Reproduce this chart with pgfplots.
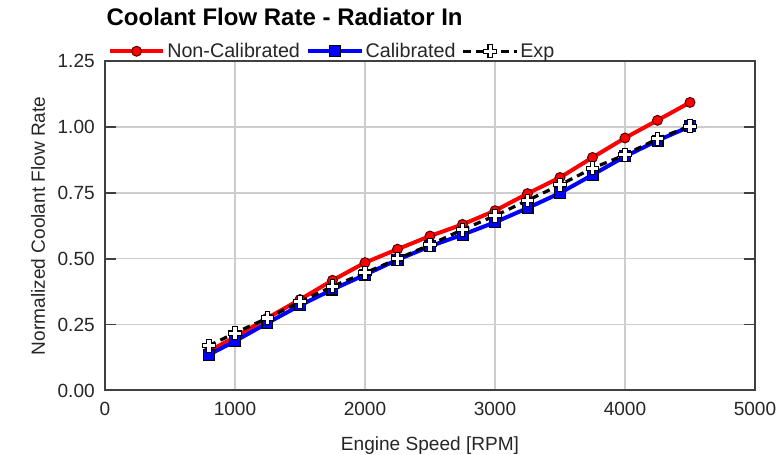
\documentclass[border=0pt]{standalone}
\usepackage{fontspec}
\setmainfont{Liberation Sans}
\usepackage{pgfplots}
\pgfplotsset{compat=1.18}
\definecolor{gridgray}{RGB}{205,205,205}
\definecolor{axgray}{RGB}{64,64,64}
\pgfdeclareplotmark{wplus}{%
  \pgfmathsetlengthmacro\pa{\pgfplotmarksize}%
  \pgfmathsetlengthmacro\pb{0.32*\pgfplotmarksize}%
  \pgfpathmoveto{\pgfpoint{-\pb}{\pa}}%
  \pgfpathlineto{\pgfpoint{\pb}{\pa}}%
  \pgfpathlineto{\pgfpoint{\pb}{\pb}}%
  \pgfpathlineto{\pgfpoint{\pa}{\pb}}%
  \pgfpathlineto{\pgfpoint{\pa}{-\pb}}%
  \pgfpathlineto{\pgfpoint{\pb}{-\pb}}%
  \pgfpathlineto{\pgfpoint{\pb}{-\pa}}%
  \pgfpathlineto{\pgfpoint{-\pb}{-\pa}}%
  \pgfpathlineto{\pgfpoint{-\pb}{-\pb}}%
  \pgfpathlineto{\pgfpoint{-\pa}{-\pb}}%
  \pgfpathlineto{\pgfpoint{-\pa}{\pb}}%
  \pgfpathlineto{\pgfpoint{-\pb}{\pb}}%
  \pgfpathclose
  \pgfusepathqfillstroke}
\pgfplotstableread{
x     noncal  cal    exp
800   0.150   0.136  0.170
1000  0.202   0.187  0.218
1250  0.275   0.256  0.275
1500  0.345   0.323  0.336
1750  0.418   0.383  0.395
2000  0.485   0.439  0.446
2250  0.536   0.496  0.499
2500  0.586   0.547  0.553
2750  0.630   0.591  0.610
3000  0.682   0.638  0.663
3250  0.747   0.692  0.721
3500  0.808   0.749  0.780
3750  0.884   0.818  0.843
4000  0.958   0.888  0.894
4250  1.025   0.948  0.955
4500  1.093   1.002  1.003
}\datatable
\begin{document}
\begin{tikzpicture}
\begin{axis}[
  name=ax,
  scale only axis,
  width=487.5pt, height=247.1pt,
  xmin=0, xmax=5000, ymin=0, ymax=1.25,
  xtick={0,1000,2000,3000,4000,5000},
  ytick={0,0.25,0.5,0.75,1,1.25},
  grid=major,
  major grid style={draw=gridgray, line width=1.1pt},
  axis line style={draw=axgray, line width=1.5pt},
  tick align=inside,
  major tick length=8.25pt,
  ytick style={draw=axgray, line width=1.3pt},
  xtick style={draw=none},
  /pgf/number format/assume math mode=true,
  xticklabel style={/pgf/number format/1000 sep={}, inner sep=0pt, anchor=north, yshift=-8.6pt},
  yticklabel style={/pgf/number format/fixed, /pgf/number format/fixed zerofill, /pgf/number format/precision=2, inner sep=0pt, anchor=east, xshift=-7.5pt},
  tick label style={font=\fontsize{14.3pt}{17pt}\selectfont, text=black!85},
  xlabel={Engine Speed [RPM]},
  ylabel={Normalized Coolant Flow Rate},
  label style={font=\fontsize{14.3pt}{17pt}\selectfont, text=black!85, inner sep=0pt},
  xlabel style={at={(axis description cs:0.5,0)}, anchor=base, yshift=-45pt},
  ylabel style={at={(axis description cs:0,0.5)}, anchor=base, yshift=45pt},
  title={\bfseries Coolant Flow Rate - Radiator In},
  title style={font=\fontsize{18pt}{21pt}\selectfont, at={(axis description cs:0,1)}, anchor=base west, inner sep=0pt, xshift=1pt, yshift=20.5pt},
  legend columns=3,
  legend style={draw=none, fill=none, at={(axis description cs:0,1)}, anchor=south west, xshift=2pt, yshift=-0.5pt, inner sep=0pt,
    font=\fontsize{14.8pt}{17pt}\selectfont, text=black!85,
    nodes={inner sep=1.5pt},
    /tikz/every even column/.append style={column sep=3.2pt}},
  legend image code/.code={\draw[#1, mark repeat=2, mark phase=2] plot coordinates {(0pt,0pt) (20pt,0pt) (40pt,0pt)};},
]
\addplot[color=red, line width=3pt, mark=*, mark size=3.75pt, mark options={fill=red, draw=black!70!red, line width=0.7pt, solid}]
  table[x=x, y=noncal] {\datatable};
\addlegendentry{Non-Calibrated}
\addplot[color=blue, line width=3pt, mark=square*, mark size=4.1pt, mark options={fill=blue, draw=black, line width=0.8pt, solid}]
  table[x=x, y=cal] {\datatable};
\addlegendentry{Calibrated}
\addplot[color=black, line width=2.4pt, dash pattern=on 5.5pt off 4pt, mark=wplus, mark size=4.8pt, mark options={fill=white, draw=black, line width=0.8pt, solid}]
  table[x=x, y=exp] {\datatable};
\addlegendentry{Exp}
\end{axis}
\path[use as bounding box] ([xshift=-78.75pt,yshift=-46.9pt]ax.south west) rectangle ([xshift=17.25pt,yshift=45.75pt]ax.north east);
\end{tikzpicture}
\end{document}
